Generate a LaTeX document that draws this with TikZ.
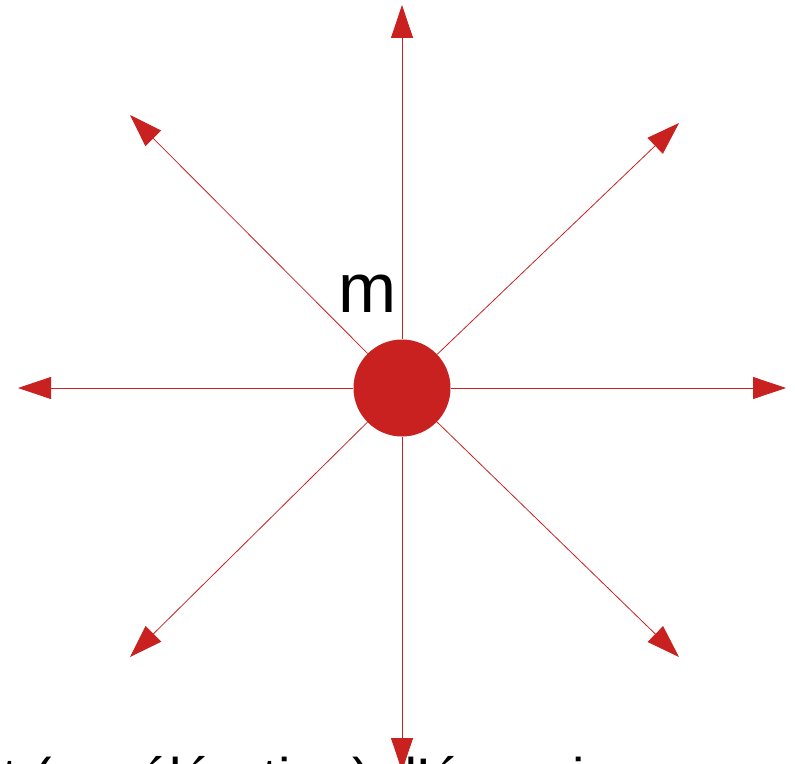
\documentclass[tikz,border=0pt]{standalone}
\usepackage{fontspec}
\setmainfont{Liberation Sans}
\usetikzlibrary{arrows.meta}
\definecolor{rd}{RGB}{200,33,32}
\tikzset{
  ray/.style={draw=rd, line width=0.8bp, -{Triangle[length=33bp,width=22bp]}},
  mass/.style={circle, fill=rd, minimum size=97bp, inner sep=0pt},
}
\begin{document}
\begin{tikzpicture}[x=1bp,y=-1bp]
\useasboundingbox (0,0) rectangle (795,764);
\node[mass] (mass) at (402,388) {};
\coordinate (n) at (402,5);
\coordinate (s) at (402,771);
\coordinate (w) at (18,388);
\coordinate (e) at (786,388);
\coordinate (nw) at (130,115);
\coordinate (ne) at (679,123);
\coordinate (sw) at (130,657);
\coordinate (se) at (679,657);
\foreach \t in {n,s,w,e,nw,ne,sw,se} \draw[ray] (mass) -- (\t);
\node[font=\fontsize{70}{78}\selectfont, anchor=base, inner sep=0pt] (mlabel) at (368,312) {m};
\node[font=\fontsize{56}{60}\selectfont, anchor=base west, inner sep=0pt] (caption) at (2,797) {t (accélération) d'énergie};
\end{tikzpicture}
\end{document}
